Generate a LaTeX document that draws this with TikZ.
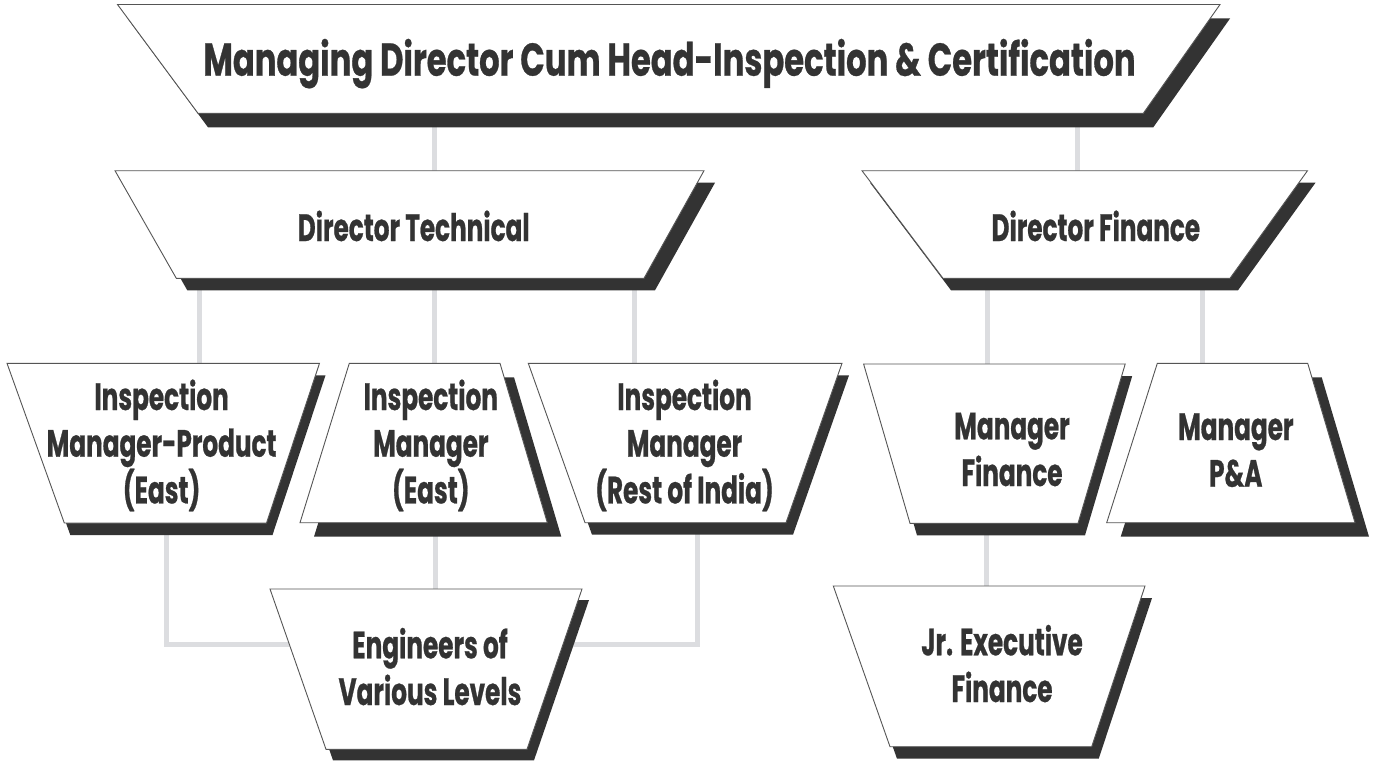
\documentclass[tikz,border=0pt]{standalone}
\usepackage{fontspec}
\setmainfont{Poppins}[FakeStretch=0.7, BoldFeatures={FakeBold=0.6}]
\newfontfamily\lblfont{Poppins}[FakeStretch=0.65, BoldFeatures={FakeBold=0.6}]
\definecolor{shadowcol}{HTML}{333333}
\definecolor{ink}{HTML}{333333}
\definecolor{conncol}{HTML}{DCDDE0}
\definecolor{edgecol}{HTML}{555555}
\tikzset{
  conn/.style={draw=conncol, line width=5pt},
  shadowfill/.style={fill=shadowcol},
  boxfill/.style={fill=white, draw=edgecol, line width=0.9pt, line join=miter},
  lbl/.style={text=ink, font=\lblfont\bfseries\fontsize{38}{46.7}\selectfont, align=center, inner sep=0pt, anchor=base},
  titlelbl/.style={text=ink, font=\bfseries\fontsize{46}{50}\selectfont, inner sep=0pt, anchor=base},
}
% TLx TRx top BLx BRx bot dx dy
\newcommand\orgbox[8]{%
  \path[shadowfill] (#1+#7,#3+#8) -- (#2+#7,#3+#8) -- (#5+#7,#6+#8) -- (#4+#7,#6+#8) -- cycle;
  \path[boxfill] (#1,#3) -- (#2,#3) -- (#5,#6) -- (#4,#6) -- cycle;
}
\begin{document}
\begin{tikzpicture}[x=1pt,y=-1pt]
\useasboundingbox (0,0) rectangle (1375,760);
\fill[white] (0,0) rectangle (1375,760);
% connector end points
\coordinate (md-s1) at (434.6,120);  \coordinate (dt-n) at (434.6,176);
\coordinate (md-s2) at (1077,120);   \coordinate (df-n) at (1077,176);
\coordinate (dt-s1) at (199,285);    \coordinate (imp-n) at (199,368);
\coordinate (dt-s2) at (434.8,285);  \coordinate (ime-n) at (434.8,368);
\coordinate (dt-s3) at (634.6,285);  \coordinate (imr-n) at (634.6,368);
\coordinate (df-s1) at (987,285);    \coordinate (mf-n) at (987,368);
\coordinate (df-s2) at (1202,285);   \coordinate (mpa-n) at (1202,368);
\coordinate (ime-s) at (435,530);    \coordinate (eng-n) at (435,594);
\coordinate (imp-s) at (166,530);    \coordinate (eng-w) at (300,644);
\coordinate (imr-s) at (697,530);    \coordinate (eng-e) at (550,644);
\coordinate (mf-s) at (986.7,530);   \coordinate (jr-n) at (986.7,592);
% connectors
\draw[conn] (md-s1) -- (dt-n);
\draw[conn] (md-s2) -- (df-n);
\draw[conn] (dt-s1) -- (imp-n);
\draw[conn] (dt-s2) -- (ime-n);
\draw[conn] (dt-s3) -- (imr-n);
\draw[conn] (df-s1) -- (mf-n);
\draw[conn] (df-s2) -- (mpa-n);
\draw[conn] (ime-s) -- (eng-n);
\draw[conn] (imp-s) |- (eng-w);
\draw[conn] (imr-s) |- (eng-e);
\draw[conn] (mf-s) -- (jr-n);
% boxes
\orgbox{117.5}{1220}{4.5}{198}{1143.3}{113.3}{10}{14}
\orgbox{115}{704}{170.7}{176.3}{644}{278.3}{11}{12}
\orgbox{862}{1307.5}{170.7}{943}{1230}{278.3}{8}{12}
\orgbox{7}{319.5}{363.3}{64.3}{266.5}{523}{6}{12}
\orgbox{349.3}{500}{363.3}{300}{547.3}{522.7}{14}{14}
\orgbox{528.3}{842}{363.3}{585}{786}{522.7}{7}{12}
\orgbox{863.6}{1125.2}{364}{910}{1078}{523.3}{7}{12}
\orgbox{1157.3}{1307.7}{363.3}{1106.7}{1355}{522.7}{14}{14}
\orgbox{270}{582}{589}{326}{527}{749.3}{7}{11}
\orgbox{833.3}{1145}{586}{890}{1091.7}{746.7}{7}{12}
% labels (anchor=base sits on the last line)
\node[titlelbl] (md) at (669.5,75.7) {Managing Director Cum Head-Inspection \& Certification};
\node[lbl] (dt) at (413.7,241) {Director Technical};
\node[lbl] (df) at (1095.8,241) {Director Finance};
\node[lbl] (imp) at (161.6,503.4) {Inspection\\Manager-Product\\(East)};
\node[lbl] (ime) at (430.8,503.4) {Inspection\\Manager\\(East)};
\node[lbl] (imr) at (684.5,503.4) {Inspection\\Manager\\(Rest of India)};
\node[lbl] (mf) at (1012,486) {Manager\\Finance};
\node[lbl] (mpa) at (1235.8,486.7) {Manager\\P\&A};
\node[lbl] (eng) at (430,705) {Engineers of\\Various Levels};
\node[lbl] (jr) at (1002,702) {Jr. Executive\\Finance};
\end{tikzpicture}
\end{document}
